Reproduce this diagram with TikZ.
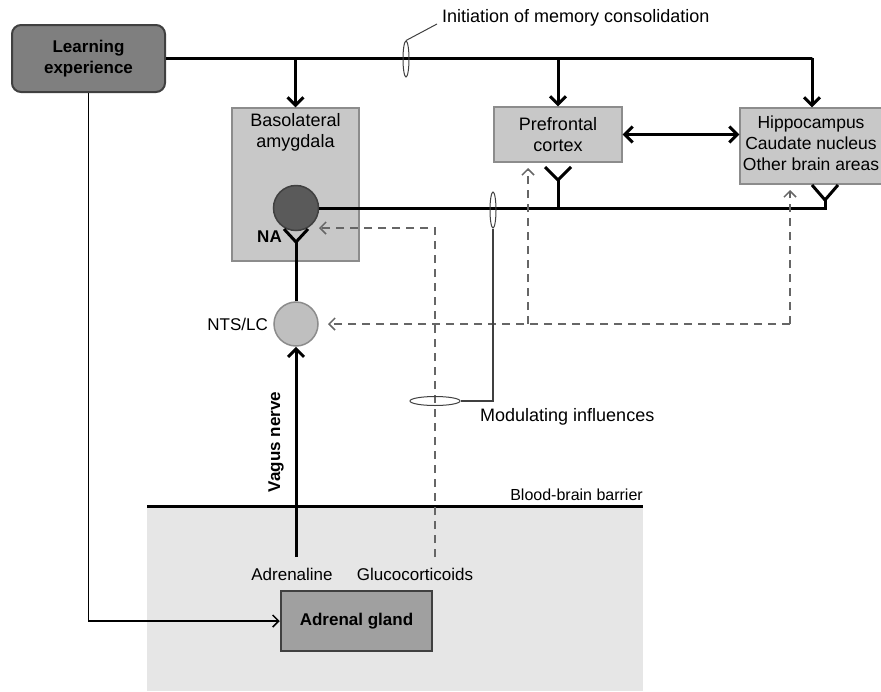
\documentclass[tikz,border=0pt]{standalone}
\usepackage{fontspec}
\setmainfont{Liberation Sans}
\usetikzlibrary{arrows.meta,shapes.geometric}
\definecolor{learnfill}{HTML}{7F7F7F}
\definecolor{darkedge}{HTML}{404040}
\definecolor{boxfill}{HTML}{C8C8C8}
\definecolor{boxedge}{HTML}{8C8C8C}
\definecolor{darkcirc}{HTML}{5A5A5A}
\definecolor{lightcirc}{HTML}{BFBFBF}
\definecolor{adrfill}{HTML}{A0A0A0}
\definecolor{bodyfill}{HTML}{E6E6E6}
\definecolor{dashgray}{HTML}{666666}
\tikzset{
  txt/.style={font=\fontsize{17}{21}\selectfont, inner sep=0pt, align=center},
  bigtxt/.style={font=\fontsize{18}{21}\selectfont, inner sep=0pt, align=center},
  learnbox/.style={draw=darkedge, line width=2pt, fill=learnfill, rounded corners=9pt, minimum width=153pt, minimum height=67pt, inner sep=0pt, align=center, font=\bfseries\fontsize{17}{21}\selectfont},
  brainbox/.style={draw=boxedge, line width=1.2pt, fill=boxfill, inner sep=0pt, align=center, font=\fontsize{18}{21}\selectfont},
  adrbox/.style={draw=darkedge, line width=2.5pt, fill=adrfill, minimum width=151pt, minimum height=60pt, inner sep=0pt, font=\bfseries\fontsize{17}{21}\selectfont},
  thickline/.style={line width=3pt, black},
  arr/.style={line width=3pt, black, -{Straight Barb[length=8pt,width=16pt,line width=3pt]}},
  darr/.style={line width=3pt, black, {Straight Barb[length=8pt,width=16pt,line width=3pt]}-{Straight Barb[length=8pt,width=16pt,line width=3pt]}},
  thinarr/.style={line width=1.5pt, black, -{Straight Barb[length=6pt,width=12pt,line width=1.5pt]}},
  dasharr/.style={line width=2pt, dashgray, dash pattern=on 8pt off 6pt, -{Straight Barb[length=6pt,width=12pt,line width=1.5pt]}},
  synapse/.style={line width=3pt, black, line join=miter},
  ring/.style={ellipse, draw=darkedge, line width=1pt, inner sep=0pt},
}
\begin{document}
\begin{tikzpicture}[x=1pt,y=-1pt]
\useasboundingbox (0,0) rectangle (881,691);
\clip (0,0) rectangle (881,691);

% body region below blood-brain barrier
\fill[bodyfill] (147,506) rectangle (643,691);

% nodes
\node[learnbox] (learn) at (88.5,58.5) {Learning\\experience};
\node[brainbox, minimum width=127pt, minimum height=153pt] (bla) at (295.5,184.5) {};
\node[bigtxt] (blatext) at (295.5,132.5) {Basolateral\\amygdala};
\node[brainbox, minimum width=128pt, minimum height=55pt] (pfc) at (558,134.5) {Prefrontal\\cortex};
\node[brainbox, minimum width=154pt, minimum height=76pt] (hip) at (817,146) {};
\node[bigtxt, font=\fontsize{17.5}{21}\selectfont] (hiptext) at (811,143) {Hippocampus\\Caudate nucleus\\Other brain areas};
\node[circle, draw=darkedge, line width=1.5pt, fill=darkcirc, minimum size=45pt, inner sep=0pt] (blan) at (296,208) {};
\node[circle, draw=boxedge, line width=1.5pt, fill=lightcirc, minimum size=44pt, inner sep=0pt] (nts) at (296,324) {};
\node[txt, anchor=east] (ntslabel) at (268,324) {NTS/LC};
\node[txt, anchor=east, font=\bfseries\fontsize{17}{21}\selectfont] (na) at (282,237) {NA};
\node[adrbox] (adr) at (356.5,621) {Adrenal gland};
\node[txt] (adrenaline) at (292,574) {Adrenaline};
\node[txt] (gluco) at (415,574) {Glucocorticoids};
\node[bigtxt, anchor=west] (initlabel) at (442,18) {Initiation of memory consolidation};
\node[bigtxt, anchor=west] (modlabel) at (480,417) {Modulating influences};
\node[txt, anchor=south east, font=\fontsize{16}{20}\selectfont] (bbblabel) at (643,501) {Blood-brain barrier};
\node[txt, rotate=90, font=\bfseries\fontsize{17}{21}\selectfont] (vagus) at (276,442) {Vagus nerve};

% coordinates
\coordinate (ytop) at (812,58.5);
\coordinate (yhipj) at (825,200);
\coordinate (yhipl) at (812,185);
\coordinate (yhipr) at (838,185);
\coordinate (ypfcj) at (558,180);
\coordinate (ypfcl) at (545,167);
\coordinate (ypfcr) at (571,167);
\coordinate (ynaj) at (296,242);
\coordinate (ynal) at (284,229);
\coordinate (ynar) at (308,229);
\coordinate (gcstart) at (435,557);
\coordinate (gccorner) at (435,228);
\coordinate (gctip) at (319,228);
\coordinate (dright) at (790,324);
\coordinate (dmid) at (528,324);
\coordinate (ntstip) at (328,324);
\coordinate (hiptip) at (790,190);
\coordinate (pfctip) at (528,168);
\coordinate (vagstart) at (296,557);
\coordinate (bbbl) at (147,506);
\coordinate (bbbr) at (643,506);
\coordinate (modcorner) at (493,401);
\coordinate (initend) at (437,24);

% blood-brain barrier line
\draw[line width=3pt] (bbbl) -- (bbbr);

% top line of initiation
\draw[thickline] (learn.east) -- (ytop) -- ++(0,-0.1);
\draw[arr] (ytop) -- (ytop |- hip.north);
\draw[arr] (bla.north |- learn.east) -- (bla.north);
\draw[arr] (pfc.north |- learn.east) -- (pfc.north);
\draw[darr] (pfc.east) -- (hip.west |- pfc.east);

% axon from BLA neuron
\draw[thickline] (blan.east) -- (yhipj |- blan.east) -- (yhipj);
\draw[synapse] (yhipl) -- (yhipj) -- (yhipr);
\draw[thickline] (ypfcj |- blan.east) -- (ypfcj);
\draw[synapse] (ypfcl) -- (ypfcj) -- (ypfcr);

% NA synapse and NTS axon
\draw[thickline] (nts.north) -- (ynaj);
\draw[synapse] (ynal) -- (ynaj) -- (ynar);

% vagus nerve
\draw[arr] (vagstart) -- (nts.south);

% learning to adrenal gland
\draw[thinarr] (learn.south) |- (adr.west);

% dashed modulating influences
\draw[dasharr] (gcstart) -- (gccorner) -- (gctip);
\draw[dasharr] (dright) -- (ntstip);
\draw[dasharr] (dright) -- (hiptip);
\draw[dasharr] (dmid) -- (pfctip);

% ellipses and leader lines
\node[ring, minimum width=6pt, minimum height=36pt] (e1) at (406,59) {};
\node[ring, minimum width=6pt, minimum height=36pt] (e2) at (493,210) {};
\node[ring, minimum width=50pt, minimum height=9pt] (e3) at (435,401) {};
\draw[line width=1pt, darkedge] (e1.north) -- (initend);
\draw[line width=1.2pt, darkedge] (e2.south) -- (modcorner) -- (e3.east);
\end{tikzpicture}
\end{document}
